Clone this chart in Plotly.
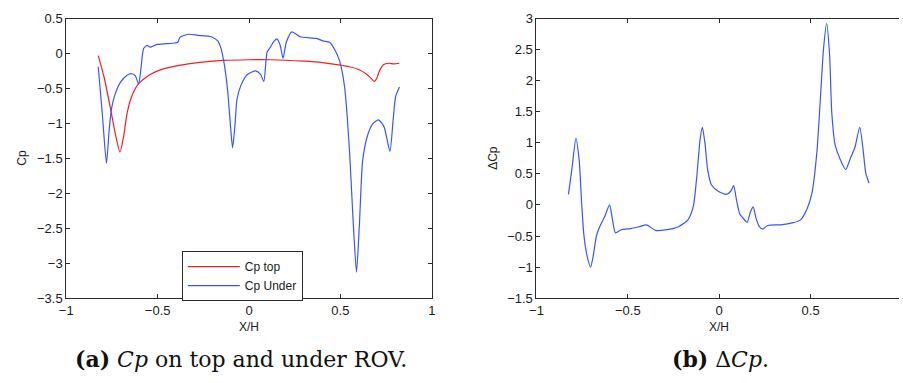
import plotly.graph_objects as go

# ---- Pressure coefficient along the ROV (panel a) ----
x_top = [-0.825, -0.793, -0.757, -0.730, -0.706, -0.685, -0.667, -0.640, -0.604, -0.541,
         -0.469, -0.382, -0.28, -0.14, 0.0, 0.12, 0.30, 0.40, 0.48, 0.55, 0.60, 0.64,
         0.67, 0.685, 0.70, 0.712, 0.735, 0.766, 0.793, 0.823]
cp_top = [-0.03, -0.34, -0.80, -1.17, -1.41, -1.17, -0.85, -0.60, -0.43, -0.30,
          -0.22, -0.17, -0.13, -0.10, -0.09, -0.09, -0.11, -0.13, -0.16, -0.19, -0.23, -0.29,
          -0.36, -0.40, -0.35, -0.26, -0.16, -0.14, -0.15, -0.14]

x_under = [-0.825, -0.802, -0.780, -0.766, -0.753, -0.735, -0.703, -0.667, -0.640, -0.622,
           -0.604, -0.591, -0.577, -0.558, -0.541, -0.504, -0.450, -0.405, -0.390, -0.378,
           -0.333, -0.279, -0.207, -0.171, -0.153, -0.135, -0.117, -0.103, -0.090, -0.077,
           -0.066, -0.045, -0.009, 0.036, 0.063, 0.081, 0.099, 0.117, 0.135, 0.153,
           0.171, 0.186, 0.204, 0.234, 0.279, 0.369, 0.405, 0.441, 0.470, 0.496,
           0.523, 0.550, 0.568, 0.588, 0.604, 0.622, 0.649, 0.676, 0.708, 0.739,
           0.771, 0.789, 0.802, 0.823]
cp_under = [-0.19, -0.89, -1.57, -1.12, -0.80, -0.60, -0.41, -0.31, -0.29, -0.32,
            -0.44, -0.21, 0.07, 0.115, 0.09, 0.13, 0.14, 0.15, 0.16, 0.23,
            0.275, 0.26, 0.24, 0.18, 0.07, -0.16, -0.53, -0.98, -1.35, -1.03,
            -0.66, -0.46, -0.30, -0.25, -0.30, -0.40, 0.02, 0.09, 0.17, 0.21,
            0.115, -0.07, 0.16, 0.31, 0.24, 0.215, 0.18, 0.16, 0.05, -0.11,
            -0.48, -1.40, -2.31, -3.13, -2.45, -1.53, -1.17, -1.01, -0.95, -1.05,
            -1.40, -0.94, -0.62, -0.48]

# ---- Pressure difference top - under (panel b) ----
x_delta = [-0.825, -0.807, -0.784, -0.766, -0.753, -0.741, -0.726, -0.704, -0.690, -0.672,
           -0.654, -0.627, -0.600, -0.585, -0.568, -0.537, -0.483, -0.438, -0.398, -0.348,
           -0.293, -0.222, -0.171, -0.141, -0.123, -0.104, -0.092, -0.077, -0.063, -0.042,
           -0.005, 0.039, 0.063, 0.079, 0.094, 0.112, 0.130, 0.153, 0.171, 0.186,
           0.202, 0.220, 0.238, 0.265, 0.337, 0.400, 0.445, 0.481, 0.508, 0.535,
           0.553, 0.571, 0.588, 0.604, 0.616, 0.634, 0.661, 0.692, 0.719, 0.742,
           0.769, 0.788, 0.802, 0.820]
delta_cp = [0.17, 0.56, 1.07, 0.71, 0.04, -0.47, -0.78, -1.00, -0.83, -0.50,
            -0.35, -0.19, 0.00, -0.22, -0.45, -0.40, -0.38, -0.35, -0.32, -0.41,
            -0.40, -0.35, -0.24, -0.01, 0.45, 1.07, 1.25, 0.97, 0.56, 0.32,
            0.22, 0.17, 0.22, 0.31, 0.09, -0.14, -0.21, -0.28, -0.11, -0.03,
            -0.22, -0.35, -0.39, -0.33, -0.32, -0.29, -0.24, -0.06, 0.20, 0.87,
            1.69, 2.52, 2.92, 2.41, 1.48, 0.97, 0.74, 0.57, 0.76, 0.92,
            1.25, 0.87, 0.51, 0.35]

RED = "rgb(245,30,30)"
BLUE = "rgb(55,85,255)"
AXC = "#2a2a2a"
W, H = 903, 383

fig = go.Figure()
fig.add_trace(go.Scatter(x=x_top, y=cp_top, mode="lines", name="Cp top",
                         line=dict(color=RED, width=1.2, shape="spline", smoothing=0.6),
                         xaxis="x", yaxis="y"))
fig.add_trace(go.Scatter(x=x_under, y=cp_under, mode="lines", name="Cp Under",
                         line=dict(color=BLUE, width=1.2, shape="spline", smoothing=0.6),
                         xaxis="x", yaxis="y"))
fig.add_trace(go.Scatter(x=x_delta, y=delta_cp, mode="lines", name="ΔCp", showlegend=False,
                         line=dict(color=BLUE, width=1.2, shape="spline", smoothing=0.6),
                         xaxis="x2", yaxis="y2"))

tickfont = dict(family="Liberation Sans, Arial, sans-serif", size=13, color="#1a1a1a")
common = dict(showgrid=False, zeroline=False, showline=True, linecolor=AXC, linewidth=1,
              ticks="inside", ticklen=4, tickcolor=AXC, tickfont=tickfont, dtick=0.5)

y_dom = [1 - 303 / H, 1 - 12 / H]
fig.update_layout(
    width=W, height=H, margin=dict(l=0, r=0, t=0, b=0),
    paper_bgcolor="white", plot_bgcolor="white",
    xaxis=dict(domain=[60 / W, 430 / W], range=[-1, 1], mirror="ticks", anchor="y", **common),
    yaxis=dict(domain=y_dom, range=[-3.5, 0.5], mirror="ticks", anchor="x", **common),
    xaxis2=dict(domain=[536 / W, 1.0], range=[-1, (W - 536) / 185 - 1], mirror="ticks",
                anchor="y2", **common),
    yaxis2=dict(domain=y_dom, range=[-1.5, 3], anchor="x2", **common),
    yaxis3=dict(overlaying="y2", anchor="x2", side="right", range=[-1.5, 3], dtick=0.5,
                showgrid=False, zeroline=False, showline=False, ticks="inside", ticklen=4,
                tickcolor=AXC, showticklabels=False),
    showlegend=True,
    legend=dict(x=177 / W, y=1 - 254 / H, xanchor="left", yanchor="top",
                bgcolor="white", bordercolor=AXC, borderwidth=1,
                font=dict(family="Liberation Sans, Arial, sans-serif", size=12, color="#1a1a1a"),
                tracegroupgap=0, itemwidth=52, valign="middle"),
)

lab = dict(family="Liberation Sans, Arial, sans-serif", size=12, color="#1a1a1a")
cap = dict(family="DejaVu Serif, Liberation Serif, serif", size=22, color="#111")
ann = [
    dict(text="Cp", x=15 / W, y=1 - 157 / H, textangle=-90, font=lab),
    dict(text="ΔCp", x=492 / W, y=1 - 157 / H, textangle=-90, font=lab),
    dict(text="X/H", x=245 / W, y=1 - 333 / H, font=lab),
    dict(text="X/H", x=721 / W, y=1 - 333 / H, font=lab),
    dict(text="<b>(a)</b> <i>Cp</i> on top and under ROV.", x=237 / W, y=1 - 366 / H, font=cap),
    dict(text="<b>(b)</b> Δ<i>Cp</i>.", x=722 / W, y=1 - 366 / H, font=cap),
]
for a in ann:
    fig.add_annotation(xref="paper", yref="paper", showarrow=False,
                       xanchor="center", yanchor="middle", **a)

fig.write_html("out.html")
